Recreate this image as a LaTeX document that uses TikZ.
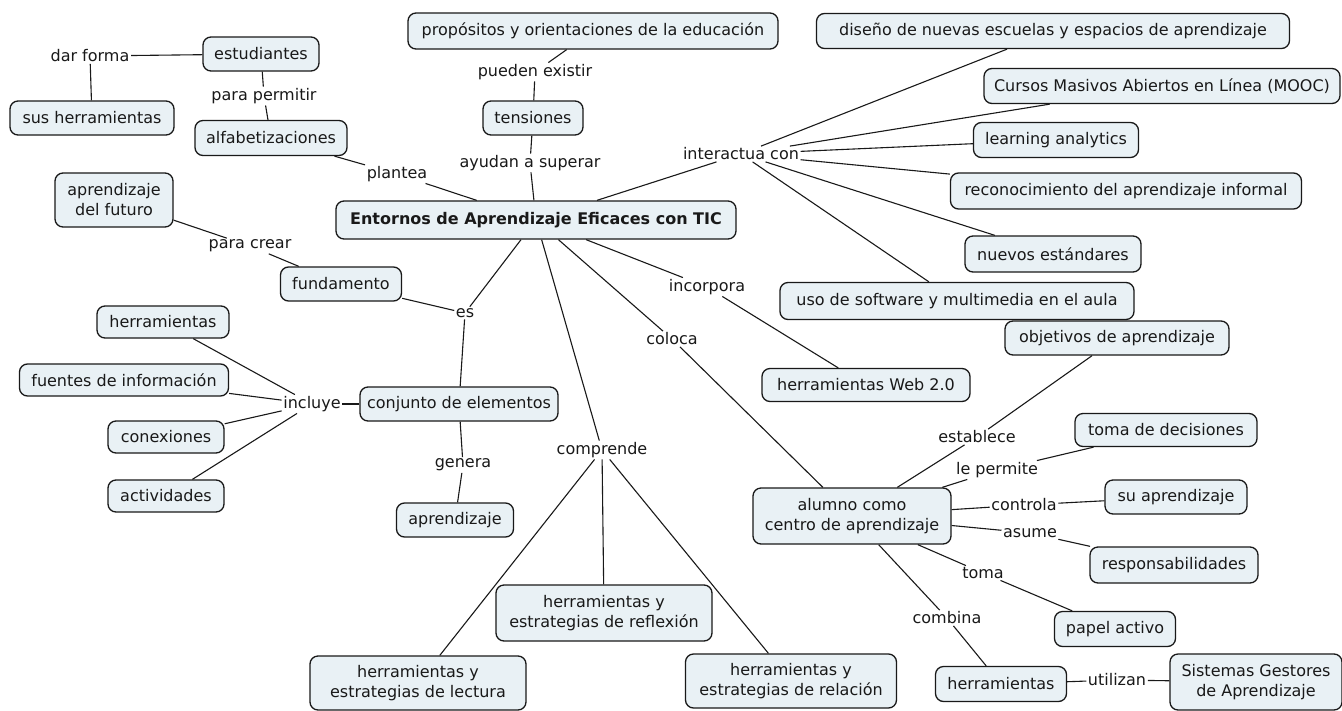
\documentclass[tikz,border=0pt]{standalone}
\usepackage{fontspec}
\setmainfont{DejaVu Sans}
\definecolor{boxfill}{RGB}{233,241,245}
\definecolor{ink}{RGB}{25,25,25}
\tikzset{
  cbox/.style={draw=ink, line width=1.3pt, fill=boxfill, rounded corners=8pt,
    inner xsep=6pt, inner ysep=3pt, align=center, text=ink,
    font=\fontsize{16}{20}\selectfont},
  lbl/.style={inner sep=1.5pt, text=ink, font=\fontsize{16}{20}\selectfont},
  conn/.style={line width=1.1pt, draw=ink},
}
\begin{document}
\begin{tikzpicture}[x=1pt,y=-1pt]
\useasboundingbox (0,0) rectangle (1342,710);
\fill[white] (0,0) rectangle (1342,710);
% concepts
\node[cbox, minimum width=116pt, minimum height=34pt] (estud) at (261,54) {estudiantes};
\node[cbox, minimum width=164pt, minimum height=34pt] (sush) at (92,118) {sus herramientas};
\node[cbox, minimum width=152pt, minimum height=35pt] (alfa) at (271,138) {alfabetizaciones};
\node[cbox, minimum width=370pt, minimum height=36pt] (prop) at (593,31) {propósitos y orientaciones de la educación};
\node[cbox, minimum width=100pt, minimum height=34pt] (tens) at (533,118) {tensiones};
\node[cbox, minimum width=400pt, minimum height=38pt, font=\fontsize{16}{20}\selectfont\bfseries] (central) at (536,220) {Entornos de Aprendizaje Eficaces con TIC};
\node[cbox, minimum width=118pt, minimum height=54pt] (futuro) at (114,200) {aprendizaje\\del futuro};
\node[cbox, minimum width=121pt, minimum height=34pt] (fund) at (341,284) {fundamento};
\node[cbox, minimum width=198pt, minimum height=34pt] (conj) at (459,404) {conjunto de elementos};
\node[cbox, minimum width=132pt, minimum height=32pt] (herrL) at (163,322) {herramientas};
\node[cbox, minimum width=209pt, minimum height=32pt] (fuentes) at (124,380) {fuentes de información};
\node[cbox, minimum width=116pt, minimum height=32pt] (conex) at (166,437) {conexiones};
\node[cbox, minimum width=116pt, minimum height=32pt] (activ) at (166,496) {actividades};
\node[cbox, minimum width=117pt, minimum height=34pt] (aprend) at (455,520) {aprendizaje};
\node[cbox, minimum width=216pt, minimum height=56pt] (refl) at (604,613) {herramientas y\\estrategias de reflexión};
\node[cbox, minimum width=216pt, minimum height=54pt] (lect) at (418,683) {herramientas y\\estrategias de lectura};
\node[cbox, minimum width=211pt, minimum height=54pt] (rel) at (791,681) {herramientas y\\estrategias de relación};
\node[cbox, minimum width=208pt, minimum height=33pt] (web) at (866,385) {herramientas Web 2.0};
\node[cbox, minimum width=473pt, minimum height=35pt] (dis) at (1053,31) {diseño de nuevas escuelas y espacios de aprendizaje};
\node[cbox, minimum width=356pt, minimum height=35pt] (mooc) at (1162,86) {Cursos Masivos Abiertos en Línea (MOOC)};
\node[cbox, minimum width=165pt, minimum height=35pt] (learn) at (1056,140) {learning analytics};
\node[cbox, minimum width=351pt, minimum height=36pt] (recon) at (1126,191) {reconocimiento del aprendizaje informal};
\node[cbox, minimum width=176pt, minimum height=36pt] (nuevos) at (1053,254) {nuevos estándares};
\node[cbox, minimum width=354pt, minimum height=37pt] (uso) at (957,301) {uso de software y multimedia en el aula};
\node[cbox, minimum width=224pt, minimum height=34pt] (obj) at (1117,338) {objetivos de aprendizaje};
\node[cbox, minimum width=182pt, minimum height=33pt] (toma) at (1166,430) {toma de decisiones};
\node[cbox, minimum width=142pt, minimum height=34pt] (sua) at (1176,497) {su aprendizaje};
\node[cbox, minimum width=198pt, minimum height=56pt] (alumno) at (852,516) {alumno como\\centro de aprendizaje};
\node[cbox, minimum width=168pt, minimum height=36pt] (resp) at (1174,565) {responsabilidades};
\node[cbox, minimum width=121pt, minimum height=35pt] (papel) at (1115,629) {papel activo};
\node[cbox, minimum width=131pt, minimum height=35pt] (herrB) at (1001,684) {herramientas};
\node[cbox, minimum width=172pt, minimum height=56pt] (sis) at (1256,682) {Sistemas Gestores\\de Aprendizaje};
% linking phrases
\node[lbl] (darforma) at (90,56) {dar forma};
\node[lbl] (parap) at (264,96) {para permitir};
\node[lbl] (plantea) at (397,174) {plantea};
\node[lbl] (pueden) at (535,72) {pueden existir};
\node[lbl] (ayudan) at (530,163) {ayudan a superar};
\node[lbl] (interact) at (741,154) {interactua con};
\node[lbl] (paracrear) at (250,246) {para crear};
\node[lbl] (es) at (465,313) {es};
\node[lbl] (incluye) at (312,404) {incluye};
\node[lbl] (genera) at (463,465) {genera};
\node[lbl] (comprende) at (602,450) {comprende};
\node[lbl] (coloca) at (672,339) {coloca};
\node[lbl] (incorpora) at (707,287) {incorpora};
\node[lbl] (establece) at (977,437) {establece};
\node[lbl] (lepermite) at (997,470) {le permite};
\node[lbl] (controla) at (1024,505) {controla};
\node[lbl] (asume) at (1030,533) {asume};
\node[lbl] (tomalbl) at (983,573) {toma};
\node[lbl] (combina) at (947,618) {combina};
\node[lbl] (utilizan) at (1117,680) {utilizan};
% connectors
\draw[conn] (estud) -- (darforma);
\draw[conn] (darforma) -- (sush);
\draw[conn] (estud) -- (parap);
\draw[conn] (parap) -- (alfa);
\draw[conn] (alfa) -- (plantea);
\draw[conn] (plantea) -- (central);
\draw[conn] (prop) -- (pueden);
\draw[conn] (pueden) -- (tens);
\draw[conn] (tens) -- (ayudan);
\draw[conn] (ayudan) -- (central);
\draw[conn] (central) -- (interact);
\foreach \t in {dis,mooc,learn,recon,nuevos,uso} \draw[conn] (interact) -- (\t);
\draw[conn] (futuro) -- (paracrear);
\draw[conn] (paracrear) -- (fund);
\draw[conn] (central) -- (es);
\draw[conn] (es) -- (fund);
\draw[conn] (es) -- (conj);
\draw[conn] (conj) -- (incluye);
\foreach \t in {herrL,fuentes,conex,activ} \draw[conn] (incluye) -- (\t);
\draw[conn] (conj) -- (genera);
\draw[conn] (genera) -- (aprend);
\draw[conn] (central) -- (comprende);
\foreach \t in {refl,lect,rel} \draw[conn] (comprende) -- (\t);
\draw[conn] (central) -- (coloca);
\draw[conn] (coloca) -- (alumno);
\draw[conn] (central) -- (incorpora);
\draw[conn] (incorpora) -- (web);
\draw[conn] (alumno) -- (establece);
\draw[conn] (establece) -- (obj);
\draw[conn] (alumno) -- (lepermite);
\draw[conn] (lepermite) -- (toma);
\draw[conn] (alumno) -- (controla);
\draw[conn] (controla) -- (sua);
\draw[conn] (alumno) -- (asume);
\draw[conn] (asume) -- (resp);
\draw[conn] (alumno) -- (tomalbl);
\draw[conn] (tomalbl) -- (papel);
\draw[conn] (alumno) -- (combina);
\draw[conn] (combina) -- (herrB);
\draw[conn] (herrB) -- (utilizan);
\draw[conn] (utilizan) -- (sis);
\end{tikzpicture}
\end{document}
